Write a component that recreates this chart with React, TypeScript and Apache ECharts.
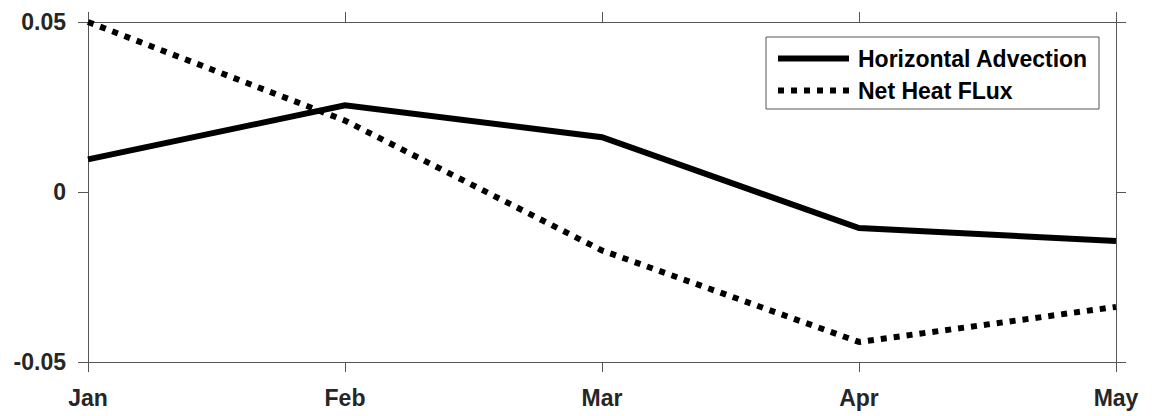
import React, { useEffect, useRef } from "react";
import * as echarts from "echarts";

const months = ["Jan", "Feb", "Mar", "Apr", "May"];
const horizontalAdvection = [0.0096, 0.0255, 0.0161, -0.0106, -0.0144];
const netHeatFlux = [0.05, 0.021, -0.0172, -0.0441, -0.0338];
const yTicks = { min: -0.05, max: 0.05, interval: 0.05 };

const FONT = "'Liberation Sans', Arial, Helvetica, sans-serif";
const AXIS_COLOR = "#555";
const TEXT_COLOR = "#262626";

export default function App() {
  const ref = useRef<HTMLDivElement>(null);
  useEffect(() => {
    if (!ref.current) return;
    const chart = echarts.init(ref.current, null, { renderer: "svg" });
    const axisLine = { show: true, onZero: false, lineStyle: { color: AXIS_COLOR, width: 1 } };
    const axisTick = { show: true, inside: false, length: 10, lineStyle: { color: AXIS_COLOR, width: 1 } };
    chart.setOption({
      animation: false,
      backgroundColor: "#fff",
      grid: { left: 88, right: 36, top: 22, bottom: 54, containLabel: false },
      legend: {
        orient: "vertical",
        left: 766,
        top: 37,
        padding: [10, 11, 7, 9],
        itemGap: 9,
        itemWidth: 71,
        itemHeight: 14,
        borderColor: "#555",
        borderWidth: 1,
        backgroundColor: "#fff",
        itemStyle: { opacity: 0 },
        lineStyle: { width: 6, cap: "butt" },
        textStyle: {
          fontFamily: FONT,
          fontWeight: "bold",
          fontSize: 23,
          color: "#000",
          padding: [0, 0, 0, 4],
        },
        data: ["Horizontal Advection", "Net Heat FLux"],
      },
      xAxis: [
        {
          type: "category",
          data: months,
          boundaryGap: false,
          position: "bottom",
          axisLine,
          axisTick,
          axisLabel: {
            show: true,
            margin: 24,
            fontFamily: FONT,
            fontWeight: "bold",
            fontSize: 23,
            color: TEXT_COLOR,
          },
          splitLine: { show: false },
        },
        {
          type: "category",
          data: months,
          boundaryGap: false,
          position: "top",
          axisLine,
          axisTick,
          axisLabel: { show: false },
          splitLine: { show: false },
        },
      ],
      yAxis: [
        {
          type: "value",
          min: yTicks.min,
          max: yTicks.max,
          interval: yTicks.interval,
          position: "left",
          axisLine,
          axisTick,
          axisLabel: {
            show: true,
            margin: 22,
            fontFamily: FONT,
            fontWeight: "bold",
            fontSize: 23,
            color: TEXT_COLOR,
            formatter: (v: number) => (Math.abs(v) < 1e-9 ? "0" : String(+v.toFixed(2))),
          },
          splitLine: { show: false },
        },
        {
          type: "value",
          min: yTicks.min,
          max: yTicks.max,
          interval: yTicks.interval,
          position: "right",
          axisLine,
          axisTick,
          axisLabel: { show: false },
          splitLine: { show: false },
        },
      ],
      series: [
        {
          name: "Horizontal Advection",
          type: "line",
          data: horizontalAdvection,
          symbol: "none",
          lineStyle: { color: "#000", width: 6, type: "solid", cap: "butt", join: "miter" },
          itemStyle: { color: "#000" },
        },
        {
          name: "Net Heat FLux",
          type: "line",
          data: netHeatFlux,
          symbol: "none",
          lineStyle: { color: "#000", width: 6, type: [6, 7], cap: "butt" },
          itemStyle: { color: "#000" },
        },
      ],
    });
    return () => chart.dispose();
  }, []);
  return (
    <div
      ref={ref}
      style={{ position: "fixed", left: 0, top: 0, width: 1152, height: 416, background: "#fff" }}
    />
  );
}
